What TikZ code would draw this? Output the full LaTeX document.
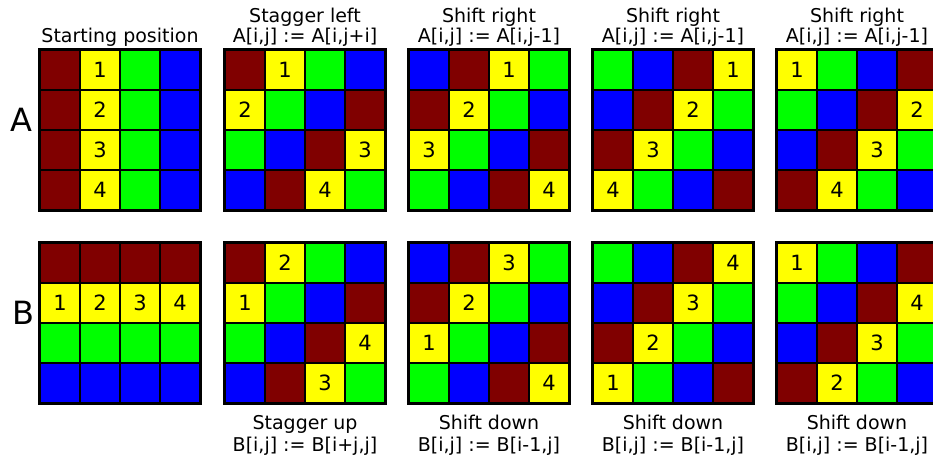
\documentclass[tikz,border=0pt]{standalone}
\usepackage{fontspec}
\setmainfont{DejaVu Sans}
\definecolor{c0}{RGB}{128,0,0}
\definecolor{c1}{RGB}{255,255,0}
\definecolor{c2}{RGB}{0,255,0}
\definecolor{c3}{RGB}{0,0,255}
\begin{document}
\begin{tikzpicture}[x=1pt,y=-1pt,
  cell/.style={draw=black, line width=1.8pt, minimum size=40pt, inner sep=0pt, font=\fontsize{21}{24}\selectfont},
  frame/.style={draw=black, line width=2.4pt},
  lbl/.style={anchor=base, inner sep=0pt, font=\fontsize{19}{22}\selectfont},
  big/.style={inner sep=0pt, font=\fontsize{32}{36}\selectfont}]
\useasboundingbox (0,0) rectangle (933,460);
\fill[white] (0,0) rectangle (933,460);
\clip (0,0) rectangle (933,460);
\foreach \k/\gx in {0/40,1/225,2/409,3/593,4/777} {
  \foreach \i in {0,...,3} {
    \foreach \j in {0,...,3} {
      \pgfmathtruncatemacro\ca{\k==0 ? \j : mod(\i+\j-\k+9,4)}
      \pgfmathtruncatemacro\cb{\k==0 ? \i : mod(\i+\j-\k+9,4)}
      \pgfmathtruncatemacro\na{\i+1}
      \pgfmathtruncatemacro\nb{\j+1}
      \node[cell, fill=c\ca] (A\k-\i-\j) at ({\gx+20+40*\j},{70+40*\i}) {\ifnum\ca=1 \na\fi};
      \node[cell, fill=c\cb] (B\k-\i-\j) at ({\gx+20+40*\j},{263+40*\i}) {\ifnum\cb=1 \nb\fi};
    }
  }
  \draw[frame] (A\k-0-0.north west) rectangle (A\k-3-3.south east);
  \draw[frame] (B\k-0-0.north west) rectangle (B\k-3-3.south east);
}
\node[big] (lA) at (21,120) {A};
\node[big] (lB) at (23,313) {B};
\node[lbl] (t0) at (120,43) {Starting position};
\node[lbl] (t1a) at (305,23) {Stagger left};
\node[lbl] (t1b) at (305,43) {A[i,j] := A[i,j+i]};
\foreach \gx [count=\n] in {409,593,777} {
  \node[lbl] (ta\n) at ({\gx+80},23) {Shift right};
  \node[lbl] (tb\n) at ({\gx+80},43) {A[i,j] := A[i,j-1]};
  \node[lbl] (ba\n) at ({\gx+80},429) {Shift down};
  \node[lbl] (bb\n) at ({\gx+80},451) {B[i,j] := B[i-1,j]};
}
\node[lbl] (b1a) at (305,429) {Stagger up};
\node[lbl] (b1b) at (305,451) {B[i,j] := B[i+j,j]};
\end{tikzpicture}
\end{document}
